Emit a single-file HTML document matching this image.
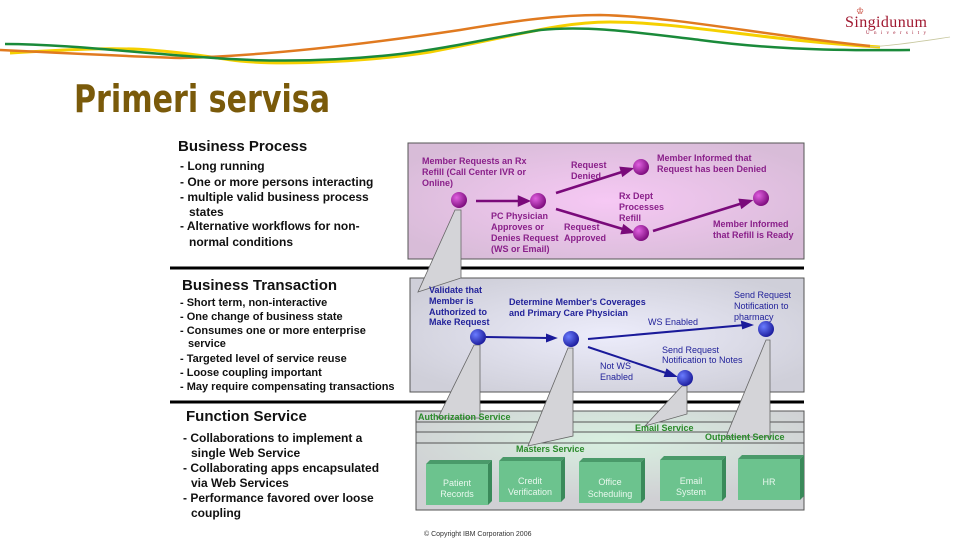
<!DOCTYPE html>
<html><head><meta charset="utf-8"><style>
body{margin:0;width:960px;height:540px;background:#fff;overflow:hidden;font-family:"Liberation Sans",sans-serif}
svg{position:absolute;left:0;top:0}
</style></head><body>
<svg width="960" height="540" viewBox="0 0 960 540" font-family="Liberation Sans, sans-serif">
<defs>
<radialGradient id="pg" cx="0.5" cy="0.5" r="0.6"><stop offset="0" stop-color="#f6c8f4"/><stop offset="1" stop-color="#d8bcd8"/></radialGradient>
<radialGradient id="bg" cx="0.5" cy="0.5" r="0.6"><stop offset="0" stop-color="#ececfb"/><stop offset="1" stop-color="#cfcfd9"/></radialGradient>
<radialGradient id="gg" cx="0.5" cy="0.3" r="0.6"><stop offset="0" stop-color="#d8f0e0"/><stop offset="1" stop-color="#d0d0d4"/></radialGradient>
<radialGradient id="pn" cx="0.35" cy="0.35" r="0.7"><stop offset="0" stop-color="#e060e0"/><stop offset="1" stop-color="#7a0a7a"/></radialGradient>
<radialGradient id="bn" cx="0.35" cy="0.35" r="0.7"><stop offset="0" stop-color="#6a7cff"/><stop offset="1" stop-color="#1a1a9a"/></radialGradient>
</defs>
<!-- header waves -->
<path d="M10,53 C60,50 110,47 150,50 C190,53 215,58 240,61 C290,66 380,60 430,52 C520,35 560,22 610,22 C680,22 760,40 880,47" stroke="#f5d000" stroke-width="3" fill="none"/>
<path d="M0,50 C60,53 120,56 180,58 C260,56 360,45 460,30 C520,20 560,15 600,15 C680,17 760,35 870,46" stroke="#e07a20" stroke-width="2.5" fill="none"/>
<path d="M5,44 C60,44 130,52 200,57 C260,62 330,62 400,54 C450,48 490,38 540,30 C590,25 640,33 700,40 C760,48 820,51 910,50" stroke="#1a8a3a" stroke-width="2.5" fill="none"/>
<path d="M870,47 C900,45 930,40 950,37" stroke="#c8c8a0" stroke-width="0.8" fill="none"/>
<text x="845" y="27" font-family="Liberation Serif, serif" font-size="16" fill="#a01830" textLength="82">Singidunum</text>
<text x="866" y="34" font-family="Liberation Serif, serif" font-size="5" fill="#a01830" textLength="60">University</text>
<text x="856" y="14" font-size="9" fill="#c03020">♔</text>
<text x="74" y="112" font-size="38" font-weight="bold" fill="#7a5a0a" font-family="DejaVu Sans Condensed, DejaVu Sans, sans-serif" textLength="256" lengthAdjust="spacingAndGlyphs">Primeri servisa</text>

<!-- panels -->
<rect x="408" y="143" width="396" height="116" fill="url(#pg)" stroke="#555" stroke-width="1"/>
<rect x="410" y="278" width="394" height="114" fill="url(#bg)" stroke="#555" stroke-width="1"/>
<rect x="416" y="411" width="388" height="99" fill="url(#gg)" stroke="#555" stroke-width="1"/>
<line x1="416" y1="422" x2="804" y2="422" stroke="#555"/>
<line x1="416" y1="432" x2="804" y2="432" stroke="#555"/>
<line x1="416" y1="443" x2="804" y2="443" stroke="#555"/>
<line x1="170" y1="268" x2="804" y2="268" stroke="#000" stroke-width="3"/>
<line x1="170" y1="402" x2="804" y2="402" stroke="#000" stroke-width="3"/>

<!-- callouts -->
<g fill="#d4d4d8" stroke="#666" stroke-width="0.8">
<polygon points="455,210 461,210 461,278 418,292"/>
<polygon points="474,345 480,345 480,418 438,418"/>
<polygon points="568,348 573,348 573,436 528,446"/>
<polygon points="682,386 687,386 687,414 645,426"/>
<polygon points="766,340 770,340 770,437 726,437"/>
</g>

<!-- top arrows -->
<g stroke="#7a0a7a" stroke-width="2.5" fill="#7a0a7a">
<line x1="476" y1="201" x2="522" y2="201"/><polygon points="528,201 519,197 519,205"/>
<line x1="556" y1="193" x2="625" y2="171"/><polygon points="631,169 621,168 623,175"/>
<line x1="556" y1="209" x2="626" y2="230"/><polygon points="632,232 624,226 622,233"/>
<line x1="653" y1="231" x2="743" y2="203"/><polygon points="750,201 740,200 742,207"/>
</g>
<g fill="url(#pn)"><circle cx="459" cy="200" r="8"/><circle cx="538" cy="201" r="8"/><circle cx="641" cy="167" r="8"/><circle cx="641" cy="233" r="8"/><circle cx="761" cy="198" r="8"/></g>
<g font-size="9" font-weight="bold" fill="#8a208a">
<text x="422" y="164">Member Requests an Rx</text><text x="422" y="175">Refill (Call Center IVR or</text><text x="422" y="186">Online)</text>
<text x="571" y="168">Request</text><text x="571" y="179">Denied</text>
<text x="657" y="161">Member Informed that</text><text x="657" y="172">Request has been Denied</text>
<text x="619" y="199">Rx Dept</text><text x="619" y="210">Processes</text><text x="619" y="221">Refill</text>
<text x="491" y="219">PC Physician</text><text x="491" y="230">Approves or</text><text x="491" y="241">Denies Request</text><text x="491" y="252">(WS or Email)</text>
<text x="564" y="230">Request</text><text x="564" y="241">Approved</text>
<text x="713" y="227">Member Informed</text><text x="713" y="238">that Refill is Ready</text>
</g>

<!-- middle arrows -->
<g stroke="#1a1a9a" stroke-width="2" fill="#1a1a9a">
<line x1="486" y1="337" x2="549" y2="338"/><polygon points="555,338 547,335 547,341"/>
<line x1="588" y1="339" x2="745" y2="325"/><polygon points="751,325 742,322 743,328"/>
<line x1="588" y1="347" x2="669" y2="374"/><polygon points="675,376 667,370 665,376"/>
</g>
<g fill="url(#bn)"><circle cx="478" cy="337" r="8"/><circle cx="571" cy="339" r="8"/><circle cx="685" cy="378" r="8"/><circle cx="766" cy="329" r="8"/></g>
<g font-size="9" font-weight="bold" fill="#22229a">
<text x="429" y="293">Validate that</text><text x="429" y="304">Member is</text><text x="429" y="315">Authorized to</text><text x="429" y="325">Make Request</text>
<text x="509" y="305">Determine Member's Coverages</text><text x="509" y="316">and Primary Care Physician</text>
</g>
<g font-size="9" fill="#22229a">
<text x="734" y="298">Send Request</text><text x="734" y="309">Notification to</text><text x="734" y="320">pharmacy</text>
<text x="648" y="325">WS Enabled</text>
<text x="662" y="353">Send Request</text><text x="662" y="363">Notification to Notes</text>
<text x="600" y="369">Not WS</text><text x="600" y="380">Enabled</text>
</g>

<!-- green service labels -->
<g font-size="9" font-weight="bold" fill="#2a8a2a">
<text x="418" y="420">Authorization Service</text>
<text x="516" y="452">Masters Service</text>
<text x="635" y="431">Email Service</text>
<text x="705" y="440">Outpatient Service</text>
</g>

<!-- green boxes -->
<g>
<g transform="translate(426,460)"><polygon points="0,4 4,0 66,0 62,4" fill="#4a9a6a"/><polygon points="62,4 66,0 66,41 62,45" fill="#3a8a5a"/><rect x="0" y="4" width="62" height="41" fill="#6cc38e"/><text x="31" y="26" font-size="9" fill="#e8f8ee" text-anchor="middle">Patient</text><text x="31" y="37" font-size="9" fill="#e8f8ee" text-anchor="middle">Records</text></g>
<g transform="translate(499,457)"><polygon points="0,4 4,0 66,0 62,4" fill="#4a9a6a"/><polygon points="62,4 66,0 66,41 62,45" fill="#3a8a5a"/><rect x="0" y="4" width="62" height="41" fill="#6cc38e"/><text x="31" y="27" font-size="9" fill="#e8f8ee" text-anchor="middle">Credit</text><text x="31" y="38" font-size="9" fill="#e8f8ee" text-anchor="middle">Verification</text></g>
<g transform="translate(579,458)"><polygon points="0,4 4,0 66,0 62,4" fill="#4a9a6a"/><polygon points="62,4 66,0 66,41 62,45" fill="#3a8a5a"/><rect x="0" y="4" width="62" height="41" fill="#6cc38e"/><text x="31" y="27" font-size="9" fill="#e8f8ee" text-anchor="middle">Office</text><text x="31" y="39" font-size="9" fill="#e8f8ee" text-anchor="middle">Scheduling</text></g>
<g transform="translate(660,456)"><polygon points="0,4 4,0 66,0 62,4" fill="#4a9a6a"/><polygon points="62,4 66,0 66,41 62,45" fill="#3a8a5a"/><rect x="0" y="4" width="62" height="41" fill="#6cc38e"/><text x="31" y="28" font-size="9" fill="#e8f8ee" text-anchor="middle">Email</text><text x="31" y="39" font-size="9" fill="#e8f8ee" text-anchor="middle">System</text></g>
<g transform="translate(738,455)"><polygon points="0,4 4,0 66,0 62,4" fill="#4a9a6a"/><polygon points="62,4 66,0 66,41 62,45" fill="#3a8a5a"/><rect x="0" y="4" width="62" height="41" fill="#6cc38e"/><text x="31" y="30" font-size="9" fill="#e8f8ee" text-anchor="middle">HR</text></g>
</g>
<text x="424" y="536" font-size="7" fill="#333">© Copyright IBM Corporation 2006</text>

<!-- left text -->
<g fill="#111" font-weight="bold">
<text x="178" y="151" font-size="15">Business Process</text>
<g font-size="12">
<text x="180" y="170">- Long running</text>
<text x="180" y="186">- One or more persons interacting</text>
<text x="180" y="201">- multiple valid business process</text>
<text x="189" y="216">states</text>
<text x="180" y="230">- Alternative workflows for non-</text>
<text x="189" y="246">normal conditions</text>
</g>
<text x="182" y="290" font-size="15">Business Transaction</text>
<g font-size="11">
<text x="180" y="306">- Short term, non-interactive</text>
<text x="180" y="320">- One change of business state</text>
<text x="180" y="334">- Consumes one or more enterprise</text>
<text x="188" y="347">service</text>
<text x="180" y="362">- Targeted level of service reuse</text>
<text x="180" y="376">- Loose coupling important</text>
<text x="180" y="390">- May require compensating transactions</text>
</g>
<text x="186" y="421" font-size="15">Function Service</text>
<g font-size="12">
<text x="183" y="442">- Collaborations to implement a</text>
<text x="191" y="457">single Web Service</text>
<text x="183" y="472">- Collaborating apps encapsulated</text>
<text x="191" y="487">via Web Services</text>
<text x="183" y="502">- Performance favored over loose</text>
<text x="191" y="517">coupling</text>
</g>
</g>
</svg>
</body></html>
